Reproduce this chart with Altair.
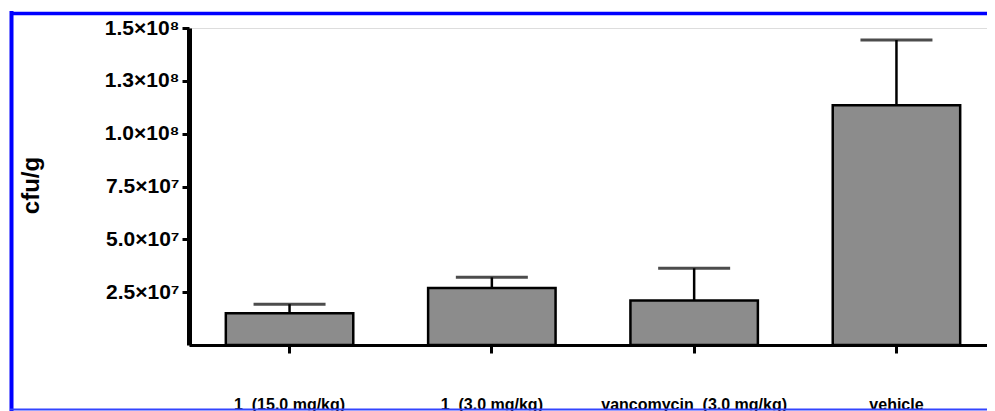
import altair as alt
import pandas as pd

categories = ["1\u00a0 (15.0 mg/kg)", "1\u00a0 (3.0 mg/kg)", "vancomycin\u00a0 (3.0 mg/kg)", "vehicle"]
means = [1.5e7, 2.7e7, 2.1e7, 1.135e8]
upper = [1.93e7, 3.2e7, 3.63e7, 1.443e8]
tick_values = [2.5e7, 5.0e7, 7.5e7, 1.0e8, 1.25e8, 1.5e8]
tick_labels = ["2.5×10⁷", "5.0×10⁷", "7.5×10⁷", "1.0×10⁸", "1.3×10⁸", "1.5×10⁸"]

df = pd.DataFrame({"cat": categories, "mean": means, "upper": upper})

label_expr = ""
for v, l in zip(tick_values, tick_labels):
    label_expr += f"datum.value == {int(v)} ? '{l}' : "
label_expr += "''"

FONT = "Liberation Sans"

x_enc = alt.X(
    "cat:N",
    sort=categories,
    scale=alt.Scale(range=[0, 808], paddingInner=0.37, paddingOuter=0.182),
    axis=alt.Axis(title=None, labelAngle=0),
)
y_scale = alt.Scale(domain=[0, 1.5e8], nice=False, zero=True)
y_axis = alt.Axis(title="cfu/g", values=tick_values, labelExpr=label_expr,
                  domain=True, domainColor="#000000", domainWidth=5, zindex=1)
y_enc = alt.Y("mean:Q", scale=y_scale, axis=y_axis)

base = alt.Chart(df)
bars = base.mark_bar(fill="#8c8c8c", stroke="black", strokeWidth=2.5).encode(x=x_enc, y=y_enc)
stems = base.mark_rule(color="black", strokeWidth=2.5).encode(x=x_enc, y=y_enc, y2="upper:Q")
caps = base.mark_tick(color="black", size=72, thickness=3).encode(
    x=x_enc, y=alt.Y("upper:Q", scale=y_scale, axis=y_axis))

one = alt.Chart(pd.DataFrame({"a": [0]}))
left_border = one.mark_rule(color="#0000ff", strokeWidth=4).encode(
    x=alt.value(-177.5), y=alt.value(-17), y2=alt.value(383))
top_border = one.mark_rule(color="#0000ff", strokeWidth=3.5).encode(
    x=alt.value(-179), x2=alt.value(810), y=alt.value(-14.5))
bottom_border = one.mark_rule(color="#3344ff", strokeWidth=2).encode(
    x=alt.value(-179), x2=alt.value(810), y=alt.value(381.5))

chart = alt.layer(left_border, top_border, bottom_border, bars, stems, caps).properties(
    width=798, height=317,
    autosize=alt.AutoSizeParams(type="none"),
    padding={"left": 181, "top": 20, "right": 0, "bottom": 66},
).configure_view(strokeWidth=0, stroke="transparent").configure(background="white").configure_axis(
    grid=False, domain=True, domainColor="black", domainWidth=3,
    ticks=True, tickColor="black", tickWidth=3,
    labelFont=FONT, labelFontWeight="bold", labelColor="black",
    titleFont=FONT, titleFontWeight="bold", titleColor="black",
).configure_axisX(
    labelFontSize=16, labelPadding=43, tickSize=8, labelLimit=0,
).configure_axisY(
    labelFontSize=21, labelPadding=3, tickSize=7,
    titleFontSize=24, titleX=-158, titleY=157, titleAngle=-90,
    titleAlign="center", titleBaseline="middle",
)

chart.save("out.html", embed_options={"renderer": "svg", "actions": False})
